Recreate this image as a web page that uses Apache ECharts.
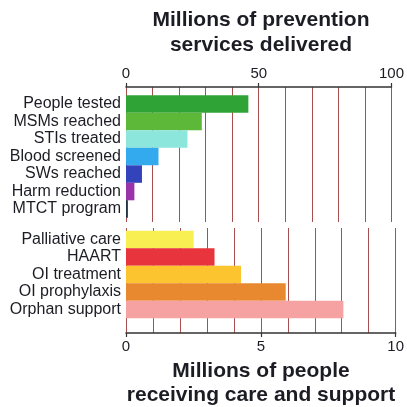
<!DOCTYPE html>
<html>
<head>
<meta charset="utf-8">
<script src="https://cdn.jsdelivr.net/npm/echarts@6/dist/echarts.min.js"></script>
<style>
html,body{margin:0;padding:0;background:#fff;}
#c{width:407px;height:407px;}
</style>
</head>
<body>
<div id="c"></div>
<script>
// Prevention services (millions of services delivered)
const preventionCategories = ['People tested','MSMs reached','STIs treated','Blood screened','SWs reached','Harm reduction','MTCT program'];
const preventionValues = [45.2, 28, 22.7, 12, 5.9, 3.1, 0.7];
const preventionColors = ['#2fa335','#5db83a','#8ce6dc','#33aaee','#3343bb','#9a33aa','#233344'];
// Care and support (millions of people)
const careCategories = ['Palliative care','HAART','OI treatment','OI prophylaxis','Orphan support'];
const careValues = [2.5, 3.27, 4.25, 5.9, 8.03];
const careColors = ['#f8f052','#e8343c','#fcc42e','#e8892f','#f6a2a2'];
// Axis ticks
const topTicks = {min:0, max:100, interval:50};
const bottomTicks = {min:0, max:10, interval:5};

const font = 'Liberation Sans, Arial, Helvetica, sans-serif';
const gridColor = '#a85050';
const textColor = '#1c1c24';

const chart = echarts.init(document.getElementById('c'));
chart.setOption({
  animation:false,
  backgroundColor:'#fff',
  title:[
    {text:'Millions of prevention\nservices delivered', left:261, top:8, textAlign:'center', padding:0,
     textStyle:{fontFamily:font, fontSize:21, fontWeight:'bold', color:textColor, lineHeight:25}},
    {text:'Millions of people\nreceiving care and support', left:261, top:359, textAlign:'center', padding:0,
     textStyle:{fontFamily:font, fontSize:21, fontWeight:'bold', color:textColor, lineHeight:24}}
  ],
  grid:[
    {left:126, width:270.7, top:95.3, height:122.5},
    {left:126, width:270.7, top:230.7, height:87.5},
    {left:126, width:270.7, top:87, height:135},
    {left:126, width:270.7, top:228, height:105}
  ],
  xAxis:[
    {gridIndex:0, type:'value', min:topTicks.min, max:topTicks.max, show:false},
    {gridIndex:1, type:'value', min:bottomTicks.min, max:bottomTicks.max, show:false},
    {gridIndex:2, type:'value', position:'top', min:topTicks.min, max:topTicks.max, interval:topTicks.interval,
     axisLine:{show:true, onZero:false, lineStyle:{color:'#333', width:1.5}},
     axisTick:{show:true, length:4, lineStyle:{color:'#333', width:1.2}},
     axisLabel:{fontFamily:font, fontSize:15, color:textColor, margin:6},
     splitLine:{show:true, lineStyle:{color:gridColor, width:1}},
     minorTick:{show:false, splitNumber:5},
     minorSplitLine:{show:true, lineStyle:{color:gridColor, width:1}}},
    {gridIndex:3, type:'value', position:'bottom', min:bottomTicks.min, max:bottomTicks.max, interval:bottomTicks.interval,
     axisLine:{show:true, onZero:false, lineStyle:{color:'#333', width:1.5}},
     axisTick:{show:true, length:4, lineStyle:{color:'#333', width:1.2}},
     axisLabel:{fontFamily:font, fontSize:15, color:textColor, margin:6},
     splitLine:{show:true, lineStyle:{color:gridColor, width:1}},
     minorTick:{show:false, splitNumber:5},
     minorSplitLine:{show:true, lineStyle:{color:gridColor, width:1}}}
  ],
  yAxis:[
    {gridIndex:0, type:'category', inverse:true, data:preventionCategories,
     axisLine:{show:false}, axisTick:{show:false}, splitLine:{show:false},
     axisLabel:{fontFamily:font, fontSize:16, color:textColor, margin:5, interval:0}},
    {gridIndex:1, type:'category', inverse:true, data:careCategories,
     axisLine:{show:false}, axisTick:{show:false}, splitLine:{show:false},
     axisLabel:{fontFamily:font, fontSize:16, color:textColor, margin:5, interval:0}},
    {gridIndex:2, type:'value', show:false, min:0, max:1},
    {gridIndex:3, type:'value', show:false, min:0, max:1}
  ],
  series:[
    {type:'bar', xAxisIndex:0, yAxisIndex:0, barCategoryGap:'0%', z:3,
     data:preventionValues.map((v,i)=>({value:v, itemStyle:{color:preventionColors[i]}}))},
    {type:'bar', xAxisIndex:1, yAxisIndex:1, barCategoryGap:'0%', z:3,
     data:careValues.map((v,i)=>({value:v, itemStyle:{color:careColors[i]}}))}
  ]
});
</script>
</body>
</html>
